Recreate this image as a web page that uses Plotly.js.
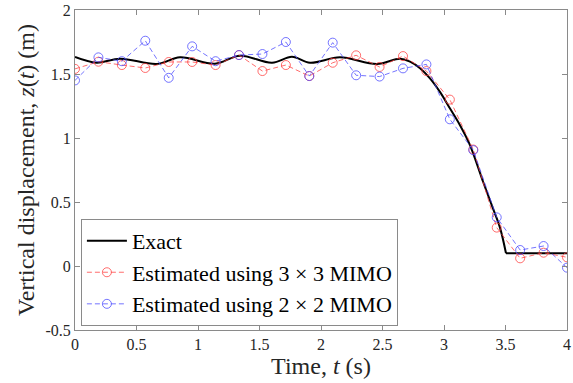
<!DOCTYPE html>
<html>
<head>
<meta charset="utf-8">
<script src="https://cdn.plot.ly/plotly-3.0.1.min.js"></script>
<style>html,body{margin:0;padding:0;background:#fff;}#chart{width:573px;height:383px;}</style>
</head>
<body>
<div id="chart"></div>
<script>
// Exact response
const exactT = [0, 0.176, 0.366, 0.667, 0.854, 1.138, 1.341, 1.602, 1.764, 1.911, 2.154, 2.455, 2.642, 2.724, 2.805, 2.886, 2.967, 3.049, 3.13, 3.211, 3.317, 3.398, 3.455, 3.504, 4.0];
const exactZ = [1.633, 1.588, 1.62, 1.578, 1.63, 1.58, 1.643, 1.588, 1.635, 1.588, 1.63, 1.578, 1.62, 1.596, 1.545, 1.466, 1.36, 1.23, 1.10, 0.945, 0.66, 0.45, 0.30, 0.10, 0.10];

// Sample times of the estimates
const sampleT = [0, 0.1905, 0.381, 0.5714, 0.7619, 0.9524, 1.1429, 1.3333, 1.5238, 1.7143, 1.9048, 2.0952, 2.2857, 2.4762, 2.6667, 2.8571, 3.0476, 3.2381, 3.4286, 3.619, 3.8095, 4.0];
const est3x3 = [1.54, 1.596, 1.57, 1.547, 1.594, 1.594, 1.57, 1.648, 1.523, 1.57, 1.484, 1.588, 1.646, 1.555, 1.64, 1.523, 1.30, 0.91, 0.30, 0.06, 0.104, 0.068];
const est2x2 = [1.45, 1.63, 1.60, 1.76, 1.47, 1.716, 1.60, 1.648, 1.656, 1.75, 1.484, 1.745, 1.49, 1.48, 1.544, 1.575, 1.146, 0.905, 0.38, 0.125, 0.156, -0.013];

const xTicks = [0, 0.5, 1, 1.5, 2, 2.5, 3, 3.5, 4];
const xTickText = ['0', '0.5', '1', '1.5', '2', '2.5', '3', '3.5', '4'];
const yTicks = [-0.5, 0, 0.5, 1, 1.5, 2];
const yTickText = ['-0.5', '0', '0.5', '1', '1.5', '2'];

const names = ['Exact', 'Estimated using 3 \u00d7 3 MIMO', 'Estimated using 2 \u00d7 2 MIMO'];

const cornerIdx = exactT.indexOf(3.504);
const SERIF = 'Liberation Serif';

const traces = [
  {x: exactT.slice(0, cornerIdx + 1), y: exactZ.slice(0, cornerIdx + 1), mode: 'lines', name: names[0],
   line: {color: '#000', width: 2, shape: 'spline', smoothing: 1}, legendrank: 1},
  {x: exactT.slice(cornerIdx), y: exactZ.slice(cornerIdx), mode: 'lines', name: names[0], showlegend: false,
   line: {color: '#000', width: 2}},
  {x: sampleT, y: est3x3, mode: 'lines+markers', name: names[1], legendrank: 2,
   line: {color: 'rgba(255,60,60,0.75)', width: 1, dash: '5px,3px'},
   marker: {symbol: 'circle-open', size: 9, color: 'rgba(255,60,60,0.75)', line: {width: 1}}},
  {x: sampleT, y: est2x2, mode: 'lines+markers', name: names[2], legendrank: 3,
   line: {color: 'rgba(70,70,255,0.75)', width: 1, dash: '5px,3px'},
   marker: {symbol: 'circle-open', size: 9, color: 'rgba(70,70,255,0.75)', line: {width: 1}}}
];

const axisCommon = {
  showline: true, linecolor: '#8a8a8a', linewidth: 1, mirror: 'ticks',
  ticks: 'inside', ticklen: 5, tickcolor: '#8a8a8a', tickwidth: 1,
  showgrid: false, zeroline: false,
  tickfont: {family: SERIF, size: 16, color: '#262626'}
};

const layout = {
  width: 573, height: 383,
  margin: {l: 75, r: 6, t: 10, b: 53},
  paper_bgcolor: '#fff', plot_bgcolor: '#fff',
  font: {family: SERIF, color: '#262626'},
  xaxis: Object.assign({}, axisCommon, {
    range: [0, 4], tickmode: 'array', tickvals: xTicks, ticktext: xTickText,
    title: {text: 'Time, <i>t</i> (s)', font: {family: SERIF, size: 24, color: '#262626'}, standoff: 4}
  }),
  yaxis: Object.assign({}, axisCommon, {
    range: [-0.5, 2], tickmode: 'array', tickvals: yTicks, ticktext: yTickText,
    title: {text: 'Vertical displacement, <i>z</i>(<i>t</i>) (m)', font: {family: SERIF, size: 24, color: '#262626'}, standoff: 4}
  }),
  legend: {
    x: 0.012, y: 0.013, xanchor: 'left', yanchor: 'bottom',
    bgcolor: '#fff', bordercolor: '#8a8a8a', borderwidth: 1,
    font: {family: SERIF, size: 22, color: '#000'},
    tracegroupgap: 0, itemwidth: 40
  },
  showlegend: true
};

Plotly.newPlot('chart', traces, layout, {displayModeBar: false, staticPlot: true});
</script>
</body>
</html>
